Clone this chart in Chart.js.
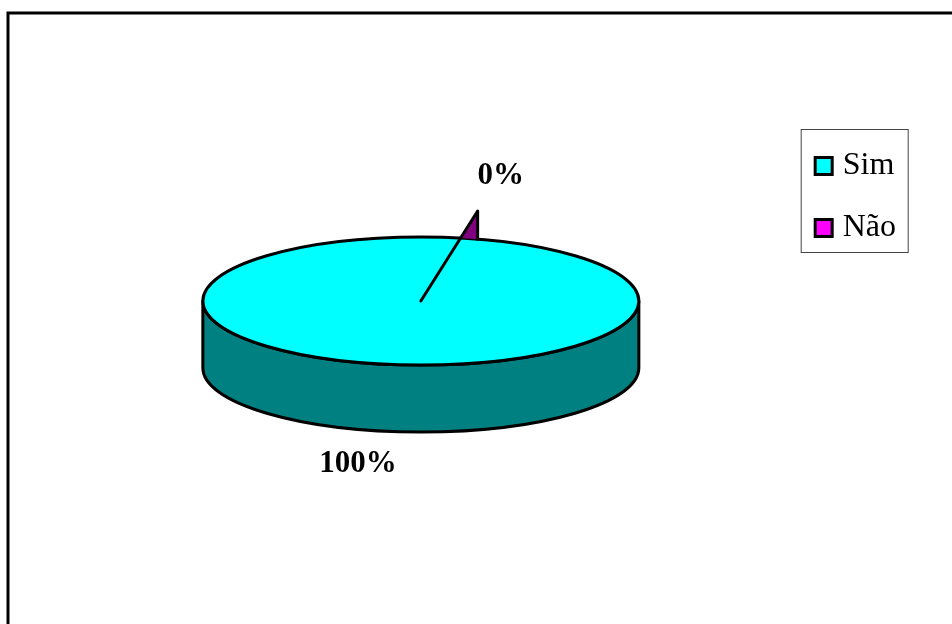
<!DOCTYPE html>
<html>
<head>
<meta charset="utf-8">
<title>Sim / Não</title>
<script src="https://cdn.jsdelivr.net/npm/chart.js@4"></script>
<style>
  html, body { margin: 0; padding: 0; background: #fff; overflow: hidden; }
  canvas { display: block; }
</style>
</head>
<body>
<canvas id="mycanvas" width="952" height="624"></canvas>
<script>
var categories = ['Sim', 'Não'];
var values = [100, 0];
var topColors = ['#00ffff', '#ff00ff'];
var sideColors = ['#008080', '#800080'];

var TILT = 0.2936;      // vertical squash of the disc
var DEPTH = 67;         // height of the side wall
var SERIF = '"Liberation Serif", "Times New Roman", serif';

function total() {
  return values.reduce(function(a, b) { return a + b; }, 0);
}

function percent(i) {
  return Math.round(values[i] / total() * 100) + '%';
}

// point on the squashed disc for a chart.js arc angle
function rimPoint(arc, angle, r) {
  return { x: arc.x + r * Math.cos(angle), y: arc.y + r * TILT * Math.sin(angle) };
}

var frame = {
  id: 'frame',
  beforeDraw: function(chart) {
    var ctx = chart.ctx;
    ctx.save();
    ctx.lineWidth = 3;
    ctx.strokeStyle = '#000';
    ctx.strokeRect(8, 13, 1200, 1200);
    ctx.restore();
  },
  afterDraw: function(chart) {
    // box round the legend entries
    var boxes = chart.legend.legendHitBoxes;
    var ctx = chart.ctx;
    ctx.save();
    ctx.lineWidth = 1;
    ctx.strokeStyle = '#444';
    ctx.strokeRect(boxes[0].left - 20 + 0.5, boxes[0].top - 21 + 0.5, 107, 123);
    ctx.restore();
  }
};

var disc = {
  id: 'disc',
  beforeDatasetsDraw: function(chart) {
    var arc = chart.getDatasetMeta(0).data[0];
    var R = arc.outerRadius, ctx = chart.ctx;
    ctx.save();
    ctx.beginPath();
    ctx.ellipse(arc.x, arc.y, R, R * TILT, 0, Math.PI, 0, true);
    ctx.lineTo(arc.x + R, arc.y + DEPTH);
    ctx.ellipse(arc.x, arc.y + DEPTH, R, R * TILT, 0, 0, Math.PI, false);
    ctx.closePath();
    ctx.fillStyle = sideColors[0];
    ctx.fill();
    ctx.lineWidth = 3;
    ctx.lineJoin = 'round';
    ctx.strokeStyle = '#000';
    ctx.stroke();
    ctx.restore();
  },
  beforeDatasetDraw: function(chart) {
    var arc = chart.getDatasetMeta(0).data[0], ctx = chart.ctx;
    ctx.save();
    ctx.translate(0, arc.y);
    ctx.scale(1, TILT);
    ctx.translate(0, -arc.y);
  },
  afterDatasetDraw: function(chart) {
    chart.ctx.restore();
  },
  afterDatasetsDraw: function(chart) {
    var meta = chart.getDatasetMeta(0);
    var arc = meta.data[0], slice = meta.data[1];
    var R = arc.outerRadius, ctx = chart.ctx;
    var a = slice.startAngle;
    var spread = 4.6 * Math.PI / 180;

    var base = rimPoint(slice, a, R);
    var tip = rimPoint(slice, a, R * 1.43);
    var end = rimPoint(slice, a + spread, R);

    ctx.save();
    ctx.lineWidth = 3;
    ctx.lineJoin = 'round';
    ctx.lineCap = 'round';
    ctx.strokeStyle = '#000';

    // rim of the top face
    ctx.beginPath();
    ctx.ellipse(arc.x, arc.y, R, R * TILT, 0, 0, Math.PI * 2);
    ctx.stroke();

    // the thin slice standing up from the rim
    ctx.beginPath();
    ctx.moveTo(base.x, base.y);
    ctx.lineTo(tip.x, tip.y);
    ctx.lineTo(end.x, end.y);
    ctx.closePath();
    ctx.fillStyle = sideColors[1];
    ctx.fill();

    ctx.beginPath();
    ctx.moveTo(arc.x, arc.y);
    ctx.lineTo(tip.x, tip.y);
    ctx.lineTo(end.x, end.y);
    ctx.stroke();

    // percentage labels
    ctx.fillStyle = '#000';
    ctx.font = 'bold 31px ' + SERIF;
    ctx.textAlign = 'center';
    ctx.textBaseline = 'middle';
    ctx.fillText(percent(1), tip.x + 23, tip.y - 35);
    var low = rimPoint(arc, a + Math.PI, R);
    ctx.fillText(percent(0), low.x - 23, low.y + DEPTH + 33);
    ctx.restore();
  }
};

var ctx = document.getElementById('mycanvas');

var pieChart = new Chart(ctx, {
  type: 'pie',
  data: {
    labels: categories,
    datasets: [{
      data: values,
      backgroundColor: topColors,
      borderWidth: 0,
      radius: 218,
      clip: false
    }]
  },
  options: {
    responsive: false,
    animation: false,
    rotation: 10.5,
    layout: { padding: { left: 51, right: 46, top: 120, bottom: 142 } },
    plugins: {
      tooltip: { enabled: false },
      legend: {
        position: 'right',
        align: 'start',
        labels: {
          usePointStyle: true,
          pointStyle: 'rect',
          boxWidth: 6,
          boxHeight: 17,
          padding: 30,
          color: '#000',
          font: { family: SERIF, size: 32 },
          generateLabels: function(chart) {
            return Chart.overrides.pie.plugins.legend.labels.generateLabels(chart).map(function(item) {
              item.lineWidth = 3;
              item.strokeStyle = '#000';
              return item;
            });
          }
        }
      }
    }
  },
  plugins: [frame, disc]
});
</script>
</body>
</html>
